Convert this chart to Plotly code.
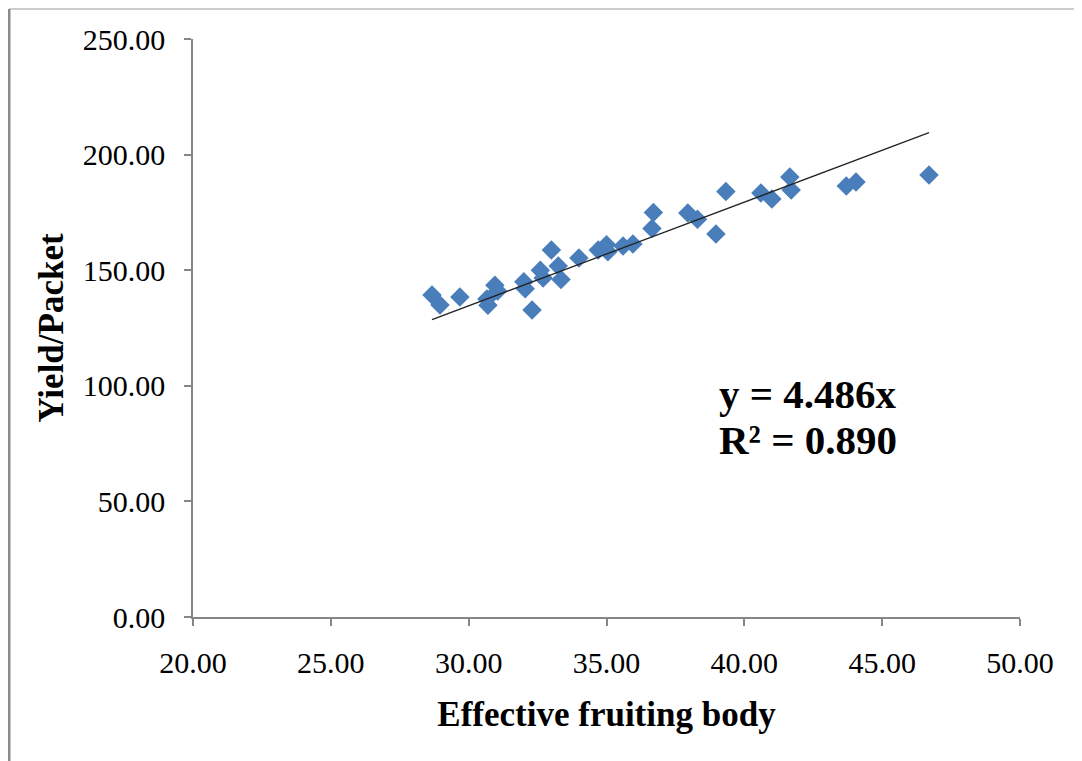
import plotly.graph_objects as go

# Data
fruiting_body = [28.67, 28.96, 29.68, 30.66, 30.70, 30.95, 31.05, 32.00, 32.05, 32.30,
                 32.60, 32.70, 33.00, 33.25, 33.35, 34.00, 34.70, 35.00, 35.05, 35.60,
                 35.96, 36.65, 36.70, 37.95, 38.30, 38.97, 39.33, 40.60, 41.00, 41.65,
                 41.70, 43.70, 44.05, 46.70]
yield_packet = [139.3, 135.0, 138.4, 137.5, 134.8, 143.5, 141.0, 145.0, 142.0, 132.8,
                150.0, 146.6, 158.7, 151.8, 146.0, 155.3, 158.7, 161.0, 158.0, 160.5,
                161.3, 168.0, 175.0, 174.7, 172.0, 165.7, 184.0, 183.4, 180.8, 190.3,
                184.7, 186.4, 188.1, 191.2]
slope = 4.486
r_squared = 0.890
x_ticks = [20, 25, 30, 35, 40, 45, 50]
y_ticks = [0, 50, 100, 150, 200, 250]

x_min, x_max = min(fruiting_body), max(fruiting_body)
trend_x = [x_min, x_max]
trend_y = [slope * v for v in trend_x]

font_family = "Liberation Serif, Times New Roman, serif"

fig = go.Figure()
fig.add_trace(go.Scatter(
    x=fruiting_body, y=yield_packet, mode="markers",
    marker=dict(symbol="diamond", size=15, color="#4A7EBB",
                line=dict(width=0)),
    showlegend=False, hoverinfo="x+y"))
fig.add_trace(go.Scatter(
    x=trend_x, y=trend_y, mode="lines",
    line=dict(color="#222222", width=1.3),
    showlegend=False, hoverinfo="skip"))

fig.add_annotation(x=39.0, y=96.5, xref="x", yref="y", xanchor="left", yanchor="middle",
                   text=f"<b>y = {slope:.3f}x</b>", showarrow=False,
                   font=dict(family=font_family, size=41, color="#000000"))
fig.add_annotation(x=39.0, y=76.5, xref="x", yref="y", xanchor="left", yanchor="middle",
                   text=f"<b>R² = {r_squared:.3f}</b>", showarrow=False,
                   font=dict(family=font_family, size=41, color="#000000"))

axis_common = dict(showgrid=False, zeroline=False, showline=True,
                   linecolor="#868686", linewidth=1.5, ticks="outside",
                   ticklen=7, tickcolor="#868686", tickwidth=1.5,
                   tickfont=dict(family=font_family, size=30, color="#000000"))

fig.update_xaxes(range=[20, 50], tickvals=x_ticks,
                 ticktext=[f"{v:.2f}" for v in x_ticks],
                 ticklabelstandoff=11,
                 title=dict(text="<b>Effective fruiting body</b>", standoff=24,
                            font=dict(family=font_family, size=35, color="#000000")),
                 **axis_common)
fig.update_yaxes(range=[0, 250], tickvals=y_ticks,
                 ticktext=[f"{v:.2f}" for v in y_ticks],
                 ticklabelstandoff=13,
                 title=dict(text="<b>Yield/Packet</b>", standoff=9,
                            font=dict(family=font_family, size=35, color="#000000")),
                 **axis_common)

# Outer frame lines (top and left) of the original image
fig.add_shape(type="line", xref="paper", yref="paper",
              x0=-0.2225, x1=1.1, y0=1.0519, y1=1.0519,
              line=dict(color="#BDBDBD", width=1.5))
fig.add_shape(type="line", xref="paper", yref="paper",
              x0=-0.2225, x1=-0.2225, y0=1.0519, y1=-0.26,
              line=dict(color="#8A8A8A", width=3))

fig.update_layout(
    width=1074, height=753,
    margin=dict(l=185, r=62, t=31, b=144),
    paper_bgcolor="#FFFFFF", plot_bgcolor="#FFFFFF",
    font=dict(family=font_family),
)

fig.write_html("out.html")
